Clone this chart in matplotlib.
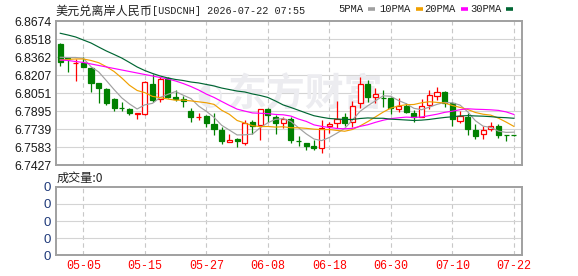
import matplotlib

matplotlib.use("Agg")
import matplotlib.pyplot as plt
import pandas as pd
from matplotlib.lines import Line2D
from matplotlib.patches import Rectangle

CJK = ["Noto Sans CJK SC", "DejaVu Sans"]
MONO = ["Liberation Mono", "Noto Sans CJK SC"]

# trading days 2026-04-30 .. 2026-07-22
dates = pd.bdate_range("2026-04-30", "2026-07-22")

opens = [6.8475, 6.8352, 6.8307, 6.8314, 6.8266, 6.8136, 6.8087, 6.8000, 6.7925, 6.7914,
         6.7875, 6.7871, 6.8127, 6.8000, 6.8179, 6.8018, 6.8003, 6.7899, 6.7845, 6.7854,
         6.7782, 6.7733, 6.7627, 6.7652, 6.7618, 6.7802, 6.7772, 6.7914, 6.7848, 6.7791,
         6.7832, 6.7642, 6.7618, 6.7595, 6.7575, 6.7763, 6.7791, 6.7842, 6.7806, 6.7963,
         6.8130, 6.8015, 6.8012, 6.8013, 6.7911, 6.7944, 6.7880, 6.7848, 6.7951, 6.8026,
         6.8063, 6.7966, 6.7813, 6.7848, 6.7733, 6.7696, 6.7739, 6.7767, 6.7690, 6.7690]
highs = [6.8481, 6.8366, 6.8343, 6.8361, 6.8279, 6.8136, 6.8098, 6.8012, 6.7977, 6.7920,
         6.7882, 6.8156, 6.8214, 6.8193, 6.8188, 6.8078, 6.8026, 6.7920, 6.7882, 6.7862,
         6.7877, 6.7756, 6.7698, 6.7661, 6.7819, 6.7819, 6.7914, 6.7927, 6.7862, 6.7848,
         6.7841, 6.7681, 6.7620, 6.7646, 6.7819, 6.7802, 6.7983, 6.7877, 6.7983, 6.8190,
         6.8165, 6.8093, 6.8078, 6.8018, 6.8009, 6.7970, 6.7905, 6.7998, 6.8078, 6.8107,
         6.8070, 6.7977, 6.7901, 6.7877, 6.7787, 6.7763, 6.7806, 6.7785, 6.7690, 6.7690]
lows = [6.8288, 6.8236, 6.8158, 6.8279, 6.8063, 6.7963, 6.7949, 6.7899, 6.7899, 6.7862,
        6.7825, 6.7862, 6.7977, 6.7972, 6.8009, 6.7983, 6.7929, 6.7804, 6.7819, 6.7761,
        6.7690, 6.7609, 6.7625, 6.7583, 6.7603, 6.7698, 6.7646, 6.7804, 6.7698, 6.7747,
        6.7620, 6.7595, 6.7556, 6.7564, 6.7534, 6.7707, 6.7750, 6.7767, 6.7761, 6.7927,
        6.7977, 6.7970, 6.7931, 6.7875, 6.7892, 6.7877, 6.7806, 6.7842, 6.7918, 6.7996,
        6.7931, 6.7767, 6.7791, 6.7690, 6.7655, 6.7658, 6.7728, 6.7665, 6.7640, 6.7685]
closes = [6.8323, 6.8343, 6.8311, 6.8279, 6.8141, 6.8098, 6.7968, 6.7925, 6.7920, 6.7877,
          6.7880, 6.8147, 6.7992, 6.8173, 6.8015, 6.8000, 6.7983, 6.7848, 6.7849, 6.7791,
          6.7739, 6.7638, 6.7644, 6.7638, 6.7796, 6.7770, 6.7911, 6.7858, 6.7791, 6.7825,
          6.7646, 6.7638, 6.7595, 6.7573, 6.7754, 6.7782, 6.7828, 6.7791, 6.7940, 6.8130,
          6.8020, 6.8046, 6.8006, 6.7920, 6.7944, 6.7884, 6.7848, 6.7944, 6.8031, 6.8063,
          6.7970, 6.7825, 6.7851, 6.7740, 6.7681, 6.7733, 6.7770, 6.7690, 6.7687, 6.7688]

ma5 = [6.8361, 6.8359, 6.8359, 6.8352, 6.8279, 6.8234, 6.8159, 6.8082, 6.8010, 6.7958,
       6.7914, 6.7950, 6.7963, 6.8014, 6.8041, 6.8065, 6.8033, 6.8004, 6.7939, 6.7894,
       6.7842, 6.7773, 6.7732, 6.7690, 6.7691, 6.7697, 6.7752, 6.7795, 6.7825, 6.7831,
       6.7806, 6.7752, 6.7699, 6.7655, 6.7641, 6.7668, 6.7706, 6.7746, 6.7819, 6.7894,
       6.7942, 6.7985, 6.8028, 6.8024, 6.7987, 6.7960, 6.7920, 6.7908, 6.7930, 6.7954,
       6.7971, 6.7967, 6.7948, 6.7890, 6.7813, 6.7766, 6.7755, 6.7723, 6.7712, 6.7714]
ma10 = [6.8337, 6.8342, 6.8346, 6.8346, 6.8333, 6.8314, 6.8279, 6.8238, 6.8182, 6.8119,
        6.8074, 6.8055, 6.8023, 6.8012, 6.8000, 6.7990, 6.7991, 6.7984, 6.7976, 6.7968,
        6.7954, 6.7903, 6.7868, 6.7815, 6.7793, 6.7770, 6.7762, 6.7763, 6.7758, 6.7761,
        6.7752, 6.7752, 6.7747, 6.7740, 6.7736, 6.7737, 6.7729, 6.7722, 6.7737, 6.7768,
        6.7805, 6.7846, 6.7887, 6.7922, 6.7941, 6.7951, 6.7953, 6.7968, 6.7977, 6.7971,
        6.7966, 6.7944, 6.7928, 6.7910, 6.7884, 6.7869, 6.7861, 6.7835, 6.7801, 6.7764]
ma20 = [6.8337, 6.8333, 6.8324, 6.8316, 6.8303, 6.8290, 6.8277, 6.8264, 6.8251, 6.8238,
        6.8225, 6.8212, 6.8199, 6.8186, 6.8173, 6.8156, 6.8134, 6.8108, 6.8078, 6.8043,
        6.8014, 6.7979, 6.7945, 6.7913, 6.7896, 6.7880, 6.7877, 6.7874, 6.7867, 6.7864,
        6.7853, 6.7827, 6.7807, 6.7777, 6.7764, 6.7754, 6.7746, 6.7743, 6.7747, 6.7764,
        6.7778, 6.7799, 6.7817, 6.7831, 6.7838, 6.7844, 6.7841, 6.7845, 6.7857, 6.7869,
        6.7885, 6.7895, 6.7908, 6.7916, 6.7912, 6.7910, 6.7907, 6.7902, 6.7889, 6.7867]
ma30 = [6.8568, 6.8553, 6.8536, 6.8510, 6.8484, 6.8449, 6.8415, 6.8385, 6.8354, 6.8316,
        6.8277, 6.8246, 6.8221, 6.8199, 6.8182, 6.8169, 6.8160, 6.8147, 6.8139, 6.8126,
        6.8113, 6.8095, 6.8082, 6.8069, 6.8061, 6.8044, 6.8031, 6.8014, 6.7983, 6.7949,
        6.7927, 6.7903, 6.7879, 6.7856, 6.7843, 6.7832, 6.7828, 6.7823, 6.7824, 6.7832,
        6.7837, 6.7834, 6.7834, 6.7826, 6.7823, 6.7819, 6.7815, 6.7818, 6.7824, 6.7833,
        6.7841, 6.7847, 6.7854, 6.7857, 6.7854, 6.7852, 6.7848, 6.7842, 6.7839, 6.7834]

price_ticks = [6.7427, 6.7583, 6.7739, 6.7895, 6.8051, 6.8207, 6.8362, 6.8518, 6.8674]
vol_ticks = [0, 1, 2, 3, 4]
volume_total = 0

title_cn = "美元兑离岸人民币"
title_rest = "[USDCNH] 2026-07-22 07:55"
ma_names = ["5PMA", "10PMA", "20PMA", "30PMA"]
ma_colors = ["#a0a0a0", "#f0a000", "#ff00ff", "#006633"]

RED = "#ff0000"
GREEN = "#008000"
FRAME = "#a0a0a0"
GRID = "#d4d4d4"

W, H = 578, 276
fig = plt.figure(figsize=(W / 100, H / 100), dpi=100)


def px_axes(x0, y0, x1, y1):
    return fig.add_axes([x0 / W, 1 - y1 / H, (x1 - x0) / W, (y1 - y0) / H])


ax = px_axes(55.5, 21, 522.3, 165.4)
axv = px_axes(55.5, 186.7, 522.3, 255.3)

n = len(closes)
xs = list(range(n))
tick_idx = [i for i in xs if i % 8 == 3]
tick_lab = [dates[i].strftime("%m-%d") for i in tick_idx]

for a in (ax, axv):
    a.set_xlim(-0.62, n + 0.1)
    for s in a.spines.values():
        s.set_color(FRAME)
        s.set_linewidth(1.4)
    a.set_xticks(tick_idx)
    for t in tick_idx:
        a.axvline(t, color="#c8c8c8", lw=0.8, ls=(0, (4, 3)), zorder=0)
    a.tick_params(length=0)

# price panel
ax.set_ylim(price_ticks[0], price_ticks[-1])
ax.set_yticks(price_ticks)
ax.set_yticklabels([f"{v:.4f}" for v in price_ticks], family="Liberation Sans",
                   fontsize=8.8, color="#1a1a1a")
ax.tick_params(axis="y", pad=3)
ax.set_xticklabels([])
for v in price_ticks[1:-1]:
    ax.axhline(v, color=GRID, lw=0.8, zorder=0)

# faint site watermark
ax.text(0.535, 0.49, "东方财富", transform=ax.transAxes, fontsize=28, family=CJK,
        fontweight="bold", style="italic", color="#ececf0", ha="center", va="center",
        zorder=0.5)
ax.text(0.33, 0.49, "◐", transform=ax.transAxes, fontsize=22, family=["DejaVu Sans"],
        color="#ececf0", ha="center", va="center", zorder=0.5)

bw = 0.66
for i in xs:
    o, h, l, c = opens[i], highs[i], lows[i], closes[i]
    lo, hi = min(o, c), max(o, c)
    if c > o:
        ax.vlines(i, l, lo, color=RED, lw=0.9, zorder=2)
        ax.vlines(i, hi, h, color=RED, lw=0.9, zorder=2)
        ax.add_patch(Rectangle((i - bw / 2, lo), bw, hi - lo, facecolor="white",
                               edgecolor=RED, lw=0.9, zorder=3))
    else:
        ax.vlines(i, l, h, color=GREEN, lw=0.9, zorder=2)
        ax.add_patch(Rectangle((i - bw / 2, lo), bw, hi - lo, facecolor=GREEN,
                               edgecolor=GREEN, lw=0.9, zorder=3))

for series, col in zip([ma5, ma10, ma20, ma30], ma_colors):
    ax.plot(xs, series, color=col, lw=0.85, zorder=4)

# volume panel
axv.set_ylim(vol_ticks[0], vol_ticks[-1])
axv.set_yticks(vol_ticks)
axv.set_yticklabels(["0"] * len(vol_ticks), family="Liberation Sans", fontsize=9.5,
                    color="#1f3a7a")
axv.tick_params(axis="y", pad=3)
for v in vol_ticks[1:-1]:
    axv.axhline(v, color=GRID, lw=0.8, zorder=0)
axv.set_xticklabels(tick_lab, family="Liberation Mono", fontsize=8.4, color=RED)
axv.tick_params(axis="x", pad=3.5)

# header texts
fig.text(55 / W, 1 - 11 / H, title_cn, family=CJK, fontsize=8.7, color="#222222",
         va="center", ha="left")
fig.text(152 / W, 1 - 11 / H, title_rest, family=MONO, fontsize=7.3, color="#222222",
         va="center", ha="left")
fig.text(57 / W, 1 - 178 / H, f"成交量:{volume_total}", family=CJK, fontsize=8.7,
         color="#222222", va="center", ha="left")

leg_x = [338, 379, 424, 470]
mark_x = [368, 416, 461, 506]
for name, col, tx, mx in zip(ma_names, ma_colors, leg_x, mark_x):
    fig.text(tx / W, 1 - 9 / H, name, family=MONO, fontsize=7.6, color="#222222",
             va="center", ha="left")
    fig.add_artist(Line2D([mx / W, (mx + 7) / W], [1 - 9 / H, 1 - 9 / H],
                          color=col, lw=2.6, solid_capstyle="butt"))

fig.savefig("out.png", dpi=100)
